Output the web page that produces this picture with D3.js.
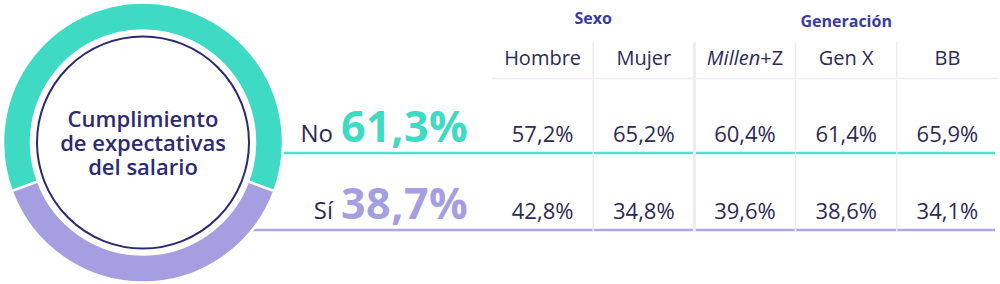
<!DOCTYPE html>
<html>
<head>
<meta charset="utf-8">
<script src="https://cdn.jsdelivr.net/npm/d3@7"></script>
<style>
  body { margin: 0; padding: 0; background: #fff; }
  svg { display: block; font-family: "Open Sans", sans-serif; }
</style>
</head>
<body>
<script>
// data
const answers = ["No", "Sí"];
const totals = [61.3, 38.7];
const columns = ["Hombre", "Mujer", "Millen+Z", "Gen X", "BB"];
const columnGroup = ["Sexo", "Sexo", "Generación", "Generación", "Generación"];
const groups = ["Sexo", "Generación"];
const noValues = [57.2, 65.2, 60.4, 61.4, 65.9];
const siValues = [42.8, 34.8, 39.6, 38.6, 34.1];
const title = ["Cumplimiento", "de expectativas", "del salario"];

const width = 1000, height = 284;
const colors = ["#3fdac3", "#a59fe1"];
const lineColors = ["#4fe3cf", "#aba6e6"];
const ink = "#2d2b57";
const navy = "#2b2a72";
const blue = "#3a3aa2";

const locale = d3.formatLocale({ decimal: ",", thousands: ".", grouping: [3], currency: ["", "€"] });
const pct = v => locale.format(".1f")(v) + "%";

const svg = d3.select("body").append("svg")
  .attr("width", width)
  .attr("height", height);

// donut
const cx = 143, cy = 142.5, rOuter = 140, rInner = 112;
const f = totals[0] / 100;
const pie = d3.pie().sort(null).value(d => d)
  .startAngle(-f * Math.PI)
  .endAngle(-f * Math.PI + 2 * Math.PI);
const arc = d3.arc().innerRadius(rInner).outerRadius(rOuter);

const rows = d3.scaleBand().domain(answers).range([78, 232]);
const lineY = d => rows(d) + rows.bandwidth() - 2;

// row lines, starting at the ring edge
svg.append("g")
  .selectAll("line")
  .data(answers)
  .join("line")
    .attr("x1", d => cx + Math.sqrt(rOuter * rOuter - Math.pow(lineY(d) - cy, 2)) - 2)
    .attr("x2", 995)
    .attr("y1", lineY)
    .attr("y2", lineY)
    .attr("stroke", (d, i) => lineColors[i])
    .attr("stroke-width", 2.5);

const donut = svg.append("g").attr("transform", `translate(${cx},${cy})`);
donut.selectAll("path")
  .data(pie(totals))
  .join("path")
    .attr("d", arc)
    .attr("fill", (d, i) => colors[i])
    .attr("stroke", "#fff")
    .attr("stroke-width", 2.5);

donut.append("circle")
  .attr("r", 106)
  .attr("fill", "#fff")
  .attr("stroke", navy)
  .attr("stroke-width", 2);

donut.append("text")
  .attr("text-anchor", "middle")
  .attr("fill", navy)
  .attr("font-size", 22)
  .attr("font-weight", 600)
  .selectAll("tspan")
  .data(title)
  .join("tspan")
    .attr("x", 0)
    .attr("y", (d, i) => -16 + i * 24)
    .text(d => d);

// totals
const totalG = svg.append("g")
  .selectAll("g")
  .data(answers)
  .join("g")
    .attr("transform", d => `translate(0,${rows(d) + 64})`);

totalG.append("text")
  .attr("x", 333)
  .attr("text-anchor", "end")
  .attr("fill", ink)
  .attr("font-size", 24)
  .text(d => d);

totalG.append("text")
  .attr("x", 341)
  .attr("fill", (d, i) => colors[i])
  .attr("font-size", 43)
  .attr("font-weight", 700)
  .attr("letter-spacing", 0.5)
  .text((d, i) => pct(totals[i]));

// table
const x = d3.scaleBand().domain(columns).range([492, 998]);

// vertical separators
svg.append("g")
  .selectAll("line")
  .data(columns.slice(1))
  .join("line")
    .attr("x1", d => x(d))
    .attr("x2", d => x(d))
    .attr("y1", 42)
    .attr("y2", 232)
    .attr("stroke", "#ececf4")
    .attr("stroke-width", (d, i) => columnGroup[i] !== columnGroup[i + 1] ? 3 : 1.5);

// header underline
svg.append("line")
  .attr("x1", 492).attr("x2", 998)
  .attr("y1", 78.5).attr("y2", 78.5)
  .attr("stroke", "#eeeef5")
  .attr("stroke-width", 1.5);

// group headers
svg.append("g")
  .selectAll("text")
  .data(groups)
  .join("text")
    .attr("x", g => {
      const cs = columns.filter((c, i) => columnGroup[i] === g);
      return (x(cs[0]) + x(cs[cs.length - 1]) + x.bandwidth()) / 2;
    })
    .attr("y", (g, i) => i === 0 ? 24 : 27)
    .attr("text-anchor", "middle")
    .attr("fill", blue)
    .attr("font-size", 16)
    .attr("font-weight", 700)
    .text(g => g);

// column headers
const head = svg.append("g")
  .selectAll("text")
  .data(columns)
  .join("text")
    .attr("x", d => x(d) + x.bandwidth() / 2)
    .attr("y", 65)
    .attr("text-anchor", "middle")
    .attr("fill", ink)
    .attr("font-size", 20);

head.each(function(d) {
  const t = d3.select(this);
  if (d.startsWith("Millen")) {
    t.append("tspan").attr("font-style", "italic").text("Millen");
    t.append("tspan").text(d.slice(6));
  } else {
    t.text(d);
  }
});

// values
const tableRows = [noValues, siValues];
svg.append("g")
  .selectAll("g")
  .data(tableRows)
  .join("g")
    .attr("transform", (d, i) => `translate(0,${rows(answers[i]) + 64})`)
  .selectAll("text")
  .data(d => d)
  .join("text")
    .attr("x", (d, i) => x(columns[i]) + x.bandwidth() / 2)
    .attr("text-anchor", "middle")
    .attr("fill", ink)
    .attr("font-size", 22)
    .text(d => pct(d));
</script>
</body>
</html>
